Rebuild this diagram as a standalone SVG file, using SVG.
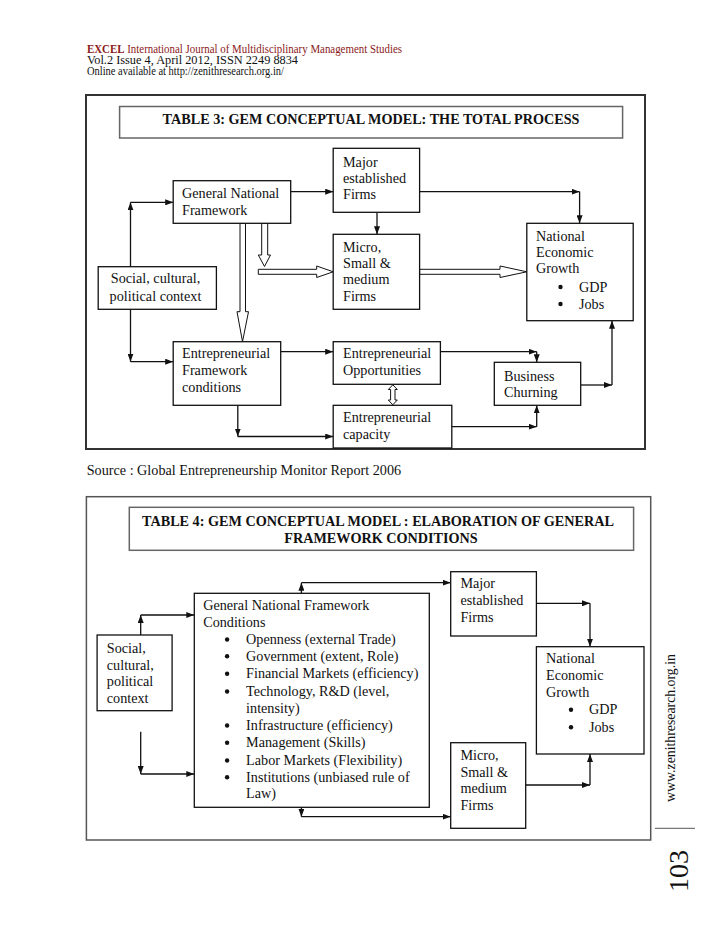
<svg xmlns="http://www.w3.org/2000/svg" width="728" height="943" viewBox="0 0 728 943">
<style>
text{font-family:"Liberation Serif","Times New Roman",serif;font-size:14.2px;fill:#111}
.hd{font-size:11.5px}
.red{fill:#8b1a1a}
.ttl{font-weight:bold}
.box{fill:#fff;stroke:#111;stroke-width:1.3}
.frame{fill:none;stroke:#333;stroke-width:2}
.frame2{fill:none;stroke:#555;stroke-width:1.5}
.tbox{fill:#fff;stroke:#666;stroke-width:1.5}
.ah{fill:none;stroke:#111;stroke-width:1.3;marker-end:url(#arr)}
.hol{fill:#fff;stroke:#111;stroke-width:1}
.dot{fill:#111}
.web{font-size:13.8px}
.pg{font-size:28px}
</style>
<defs>
<marker id="arr" viewBox="0 0 8 6" refX="8" refY="3" markerWidth="8" markerHeight="6" markerUnits="userSpaceOnUse" orient="auto"><path d="M0,0 L8,3 L0,6 Z" fill="#111"/></marker>
</defs>
<rect width="728" height="943" fill="#fff"/>

<g id="header">
<text class="hd" x="87" y="53" textLength="315" lengthAdjust="spacingAndGlyphs"><tspan class="red" font-weight="bold">EXCEL</tspan><tspan class="red"> International Journal of Multidisciplinary Management Studies</tspan></text>
<text class="hd" x="87" y="64" textLength="211" lengthAdjust="spacingAndGlyphs">Vol.2 Issue 4, April 2012, ISSN 2249 8834</text>
<text class="hd" x="87" y="75" textLength="197" lengthAdjust="spacingAndGlyphs">Online available at http://zenithresearch.org.in/</text>
</g>

<!-- TABLE 3 -->
<rect class="frame" x="86" y="95" width="559" height="354"/>
<g id="t3-title">
<rect class="tbox" x="119.6" y="106.5" width="503" height="31.5"/>
<text class="ttl" x="371" y="124" text-anchor="middle">TABLE 3: GEM CONCEPTUAL MODEL: THE TOTAL PROCESS</text>
</g>

<g id="t3-connectors">
<path class="ah" d="M130.5,266.7 V202.3"/>
<path class="ah" d="M130.5,202.3 H173.2"/>
<path class="ah" d="M130.5,309.3 V361.7"/>
<path class="ah" d="M130.5,361.7 H173.2"/>
<path class="ah" d="M290.7,191.7 H333.2"/>
<path class="ah" d="M419.6,191.7 H579.6"/>
<path class="ah" d="M579.6,191.7 V223.3"/>
<path class="ah" d="M377,212.3 V234.3"/>
<path class="ah" d="M280.7,351.7 H333.2"/>
<path class="ah" d="M237.8,405.3 V436.5"/>
<path class="ah" d="M237.8,436.5 H333.2"/>
<path class="ah" d="M440.4,351.7 H536.7"/>
<path class="ah" d="M536.7,351.7 V362.3"/>
<path class="ah" d="M451.8,426.7 H536.7"/>
<path class="ah" d="M536.7,426.7 V405.3"/>
<path class="ah" d="M580.7,385 H612"/>
<path class="ah" d="M612,385 V320.7"/>
<polygon class="hol" points="240,223.3 240,311.7 237,311.7 242.5,341.7 248.5,311.7 245.5,311.7 245.5,223.3"/>
<polygon class="hol" points="261.7,223.3 261.7,255 258.3,255 264.5,266.5 270.5,255 267.7,255 267.7,223.3"/>
<polygon class="hol" points="258.3,269.3 316.7,269.3 316.7,266 333.2,271.8 316.7,277.5 316.7,274.3 258.3,274.3"/>
<polygon class="hol" points="419.6,269.3 500,269.3 500,266 526.8,271.8 500,277.5 500,274.3 419.6,274.3"/>
<polygon class="hol" points="392.8,384.8 397.3,389.5 395,389.5 395,400 397.3,400 392.8,404.8 388.3,400 390.6,400 390.6,389.5 388.3,389.5"/>
</g>

<g id="t3-gnf">
<rect class="box" x="173.2" y="180.7" width="117.5" height="42.6"/>
<text x="182" y="198">General National</text>
<text x="182" y="214.5">Framework</text>
</g>
<g id="t3-major">
<rect class="box" x="333.2" y="148.3" width="86.4" height="64"/>
<text x="343" y="166.7">Major</text>
<text x="343" y="183">established</text>
<text x="343" y="199.3">Firms</text>
</g>
<g id="t3-micro">
<rect class="box" x="333.2" y="234.3" width="86.4" height="75"/>
<text x="343" y="251.7">Micro,</text>
<text x="343" y="268">Small &amp;</text>
<text x="343" y="284.3">medium</text>
<text x="343" y="300.5">Firms</text>
</g>
<g id="t3-national">
<rect class="box" x="526.8" y="223.3" width="106.4" height="97.4"/>
<text x="536" y="240.7">National</text>
<text x="536" y="257">Economic</text>
<text x="536" y="273.3">Growth</text>
<circle class="dot" cx="560.5" cy="287" r="2.2"/>
<text x="579" y="291.7">GDP</text>
<circle class="dot" cx="560.5" cy="304" r="2.2"/>
<text x="579" y="308.7">Jobs</text>
</g>
<g id="t3-social">
<rect class="box" x="98.2" y="266.7" width="118.2" height="42.6"/>
<text x="155.5" y="283.3" text-anchor="middle">Social, cultural,</text>
<text x="155.5" y="300.5" text-anchor="middle">political context</text>
</g>
<g id="t3-efc">
<rect class="box" x="173.2" y="341.7" width="107.5" height="63.6"/>
<text x="182" y="358.3">Entrepreneurial</text>
<text x="182" y="375">Framework</text>
<text x="182" y="391.7">conditions</text>
</g>
<g id="t3-eo">
<rect class="box" x="333.2" y="341.7" width="107.2" height="42.6"/>
<text x="343" y="358.3">Entrepreneurial</text>
<text x="343" y="375">Opportunities</text>
</g>
<g id="t3-ec">
<rect class="box" x="333.2" y="405.3" width="118.6" height="42.7"/>
<text x="343" y="422.3">Entrepreneurial</text>
<text x="343" y="439.3">capacity</text>
</g>
<g id="t3-bc">
<rect class="box" x="494.3" y="362.3" width="86.4" height="43"/>
<text x="504" y="380.7">Business</text>
<text x="504" y="396.7">Churning</text>
</g>

<text id="source" x="86.7" y="475">Source : Global Entrepreneurship Monitor Report 2006</text>

<!-- TABLE 4 -->
<rect class="frame2" x="86.4" y="496.7" width="564.3" height="343.3"/>
<g id="t4-title">
<rect class="tbox" x="129.3" y="507.3" width="504.3" height="43"/>
<text class="ttl" x="378" y="526" text-anchor="middle">TABLE 4: GEM CONCEPTUAL MODEL : ELABORATION OF GENERAL</text>
<text class="ttl" x="381" y="542.7" text-anchor="middle">FRAMEWORK CONDITIONS</text>
</g>

<g id="t4-connectors">
<path class="ah" d="M140.7,635 V615"/>
<path class="ah" d="M140.7,615 H194.3"/>
<path class="ah" d="M140.7,731.7 V774"/>
<path class="ah" d="M140.7,774 H194.3"/>
<path class="ah" d="M301.4,593.3 V582.7"/>
<path class="ah" d="M301.4,582.7 H450.7"/>
<path class="ah" d="M301.4,807.3 V816.7"/>
<path class="ah" d="M301.4,816.7 H450.7"/>
<path class="ah" d="M536.4,603.3 H590"/>
<path class="ah" d="M590,603.3 V646.7"/>
<path class="ah" d="M525.7,785 H590"/>
<path class="ah" d="M590,785 V754"/>
</g>

<g id="t4-social">
<rect class="box" x="97.1" y="635" width="75" height="75.7"/>
<text x="106.8" y="653.3">Social,</text>
<text x="106.8" y="669.8">cultural,</text>
<text x="106.8" y="686.2">political</text>
<text x="106.8" y="702.5">context</text>
</g>
<g id="t4-gnfc">
<rect class="box" x="194.3" y="593.3" width="235" height="214"/>
<text x="203.2" y="610">General National Framework</text>
<text x="203.2" y="626.5">Conditions</text>
<circle class="dot" cx="227.1" cy="639.5" r="2.2"/><text x="246.1" y="644">Openness (external Trade)</text>
<circle class="dot" cx="227.1" cy="656.2" r="2.2"/><text x="246.1" y="660.7">Government (extent, Role)</text>
<circle class="dot" cx="227.1" cy="673.8" r="2.2"/><text x="246.1" y="678.3">Financial Markets (efficiency)</text>
<circle class="dot" cx="227.1" cy="691.5" r="2.2"/><text x="246.1" y="696">Technology, R&amp;D (level,</text>
<text x="246.1" y="712.7">intensity)</text>
<circle class="dot" cx="227.1" cy="725.5" r="2.2"/><text x="246.1" y="730">Infrastructure (efficiency)</text>
<circle class="dot" cx="227.1" cy="742.8" r="2.2"/><text x="246.1" y="747.3">Management (Skills)</text>
<circle class="dot" cx="227.1" cy="760.5" r="2.2"/><text x="246.1" y="765">Labor Markets (Flexibility)</text>
<circle class="dot" cx="227.1" cy="777.2" r="2.2"/><text x="246.1" y="781.7">Institutions (unbiased rule of</text>
<text x="246.1" y="798.3">Law)</text>
</g>
<g id="t4-major">
<rect class="box" x="450.7" y="571.7" width="85.7" height="64.3"/>
<text x="460.4" y="588.3">Major</text>
<text x="460.4" y="605">established</text>
<text x="460.4" y="621.7">Firms</text>
</g>
<g id="t4-national">
<rect class="box" x="536.4" y="646.7" width="107.6" height="107.3"/>
<text x="546" y="663.3">National</text>
<text x="546" y="680">Economic</text>
<text x="546" y="696.5">Growth</text>
<circle class="dot" cx="571" cy="709.8" r="2.2"/>
<text x="589" y="714.3">GDP</text>
<circle class="dot" cx="571" cy="727.2" r="2.2"/>
<text x="589" y="731.7">Jobs</text>
</g>
<g id="t4-micro">
<rect class="box" x="450.7" y="742.7" width="75" height="85.6"/>
<text x="460.4" y="760">Micro,</text>
<text x="460.4" y="776.7">Small &amp;</text>
<text x="460.4" y="793.3">medium</text>
<text x="460.4" y="809.5">Firms</text>
</g>

<g id="margin">
<text class="web" x="0" y="0" text-anchor="middle" transform="translate(675,728) rotate(-90)">www.zenithresearch.org.in</text>
<line x1="655" y1="828.3" x2="695" y2="828.3" stroke="#555" stroke-width="1"/>
<text class="pg" x="0" y="0" text-anchor="middle" transform="translate(688,871) rotate(-90)">103</text>
</g>
</svg>
